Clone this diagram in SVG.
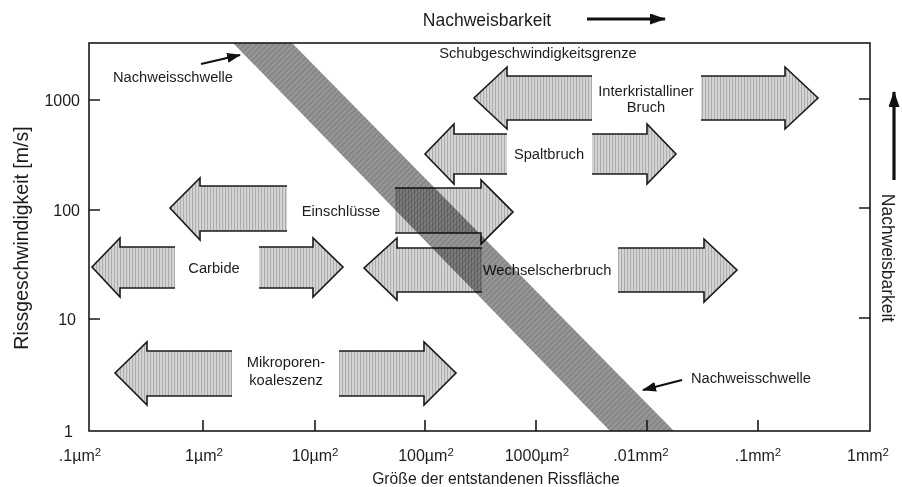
<svg xmlns="http://www.w3.org/2000/svg" width="902" height="487" viewBox="0 0 902 487">
<defs>
<pattern id="hatch" width="3" height="3" patternUnits="userSpaceOnUse"><rect width="3" height="3" fill="#d6d6d6"/><rect width="1.1" height="3" fill="#acacac"/></pattern>
<pattern id="bandp" width="4" height="4" patternUnits="userSpaceOnUse" patternTransform="rotate(45)"><rect width="4" height="4" fill="#979797"/><rect width="1.6" height="4" fill="#828282"/></pattern>
<marker id="ahL" viewBox="0 0 16 11" refX="15" refY="5.5" markerWidth="16" markerHeight="11" orient="auto" markerUnits="userSpaceOnUse"><path d="M0,0 L16,5.5 L0,11 Z" fill="#111"/></marker>
<marker id="ahS" viewBox="0 0 14 10" refX="13" refY="5" markerWidth="14" markerHeight="10" orient="auto" markerUnits="userSpaceOnUse"><path d="M0,0 L14,5 L0,10 Z" fill="#111"/></marker>
</defs>
<style>
.t{font-family:"Liberation Sans",Arial,sans-serif;fill:#1c1c1c}
.lab{font-size:14.7px}
.tk{font-size:16px}
.af{fill:url(#hatch);stroke:none}
.as{fill:none;stroke:#1a1a1a;stroke-width:1.6;stroke-linejoin:miter}
.ax{fill:none;stroke:#1a1a1a;stroke-width:1.6}
.ld{fill:none;stroke:#111;stroke-width:2.2}
.ldb{fill:none;stroke:#111;stroke-width:3.2}
</style>
<rect width="902" height="487" fill="#fff"/>

<!-- arrows (nodes) -->
<g id="interkristallin">
<path class="af" d="M474,98 L507,67 L507,76 L592,76 L592,120 L507,120 L507,129 Z"/>
<path class="as" d="M592,76 L507,76 L507,67 L474,98 L507,129 L507,120 L592,120"/>
<path class="af" d="M818,98 L785,67 L785,76 L701,76 L701,120 L785,120 L785,129 Z"/>
<path class="as" d="M701,76 L785,76 L785,67 L818,98 L785,129 L785,120 L701,120"/>
<text class="t lab" x="646" y="96" text-anchor="middle">Interkristalliner</text>
<text class="t lab" x="646" y="112" text-anchor="middle">Bruch</text>
</g>
<g id="spaltbruch">
<path class="af" d="M425,154 L454,124 L454,134 L507,134 L507,174 L454,174 L454,184 Z"/>
<path class="as" d="M507,134 L454,134 L454,124 L425,154 L454,184 L454,174 L507,174"/>
<path class="af" d="M676,154 L647,124 L647,134 L592,134 L592,174 L647,174 L647,184 Z"/>
<path class="as" d="M592,134 L647,134 L647,124 L676,154 L647,184 L647,174 L592,174"/>
<text class="t lab" x="549" y="159" text-anchor="middle">Spaltbruch</text>
</g>
<g id="einschluesse">
<path class="af" d="M170,208 L200,178 L200,186 L287,186 L287,231 L200,231 L200,240 Z"/>
<path class="as" d="M287,186 L200,186 L200,178 L170,208 L200,240 L200,231 L287,231"/>
<path class="af" d="M513,212 L481,180 L481,188 L395,188 L395,233 L481,233 L481,244 Z"/>
<path class="as" d="M395,188 L481,188 L481,180 L513,212 L481,244 L481,233 L395,233"/>
<text class="t lab" x="341" y="216" text-anchor="middle">Einschlüsse</text>
</g>
<g id="carbide">
<path class="af" d="M92,267 L120,238 L120,247 L175,247 L175,288 L120,288 L120,297 Z"/>
<path class="as" d="M175,247 L120,247 L120,238 L92,267 L120,297 L120,288 L175,288"/>
<path class="af" d="M343,267 L313,238 L313,247 L259,247 L259,288 L313,288 L313,297 Z"/>
<path class="as" d="M259,247 L313,247 L313,238 L343,267 L313,297 L313,288 L259,288"/>
<text class="t lab" x="214" y="273" text-anchor="middle">Carbide</text>
</g>
<g id="wechselscherbruch">
<path class="af" d="M364,268 L397,238 L397,248 L482,248 L482,292 L397,292 L397,300 Z"/>
<path class="as" d="M482,248 L397,248 L397,238 L364,268 L397,300 L397,292 L482,292"/>
<path class="af" d="M737,270 L704,239 L704,248 L618,248 L618,292 L704,292 L704,302 Z"/>
<path class="as" d="M618,248 L704,248 L704,239 L737,270 L704,302 L704,292 L618,292"/>
<text class="t lab" x="547" y="275" text-anchor="middle">Wechselscherbruch</text>
</g>
<g id="mikroporen">
<path class="af" d="M115,373 L147,342 L147,351 L232,351 L232,396 L147,396 L147,405 Z"/>
<path class="as" d="M232,351 L147,351 L147,342 L115,373 L147,405 L147,396 L232,396"/>
<path class="af" d="M456,373 L424,342 L424,351 L339,351 L339,396 L424,396 L424,405 Z"/>
<path class="as" d="M339,351 L424,351 L424,342 L456,373 L424,405 L424,396 L339,396"/>
<text class="t lab" x="286" y="367" text-anchor="middle">Mikroporen-</text>
<text class="t lab" x="286" y="385" text-anchor="middle">koaleszenz</text>
</g>

<!-- detection threshold band -->
<g id="nachweisschwelle-band" style="mix-blend-mode:multiply">
<polygon points="233,43 292,43 674,431 610,431" fill="url(#bandp)"/>
</g>

<!-- frame and axes -->
<g id="axes">
<rect class="ax" x="89" y="43" width="781" height="388"/>
<path class="ax" d="M89,100 H100 M89,210 H100 M89,319 H100 M870,99 H859 M870,208 H859 M870,318 H859 M203,431 V420 M315,431 V420 M425,431 V420 M536,431 V420 M647,431 V420 M758,431 V420"/>
<text class="t tk" x="80" y="106" text-anchor="end">1000</text>
<text class="t tk" x="80" y="216" text-anchor="end">100</text>
<text class="t tk" x="76" y="325" text-anchor="end">10</text>
<text class="t tk" x="73" y="437" text-anchor="end">1</text>
<g class="t tk" text-anchor="middle">
<text x="80" y="461">.1µm<tspan font-size="11.5" dy="-5">2</tspan></text>
<text x="204" y="461">1µm<tspan font-size="11.5" dy="-5">2</tspan></text>
<text x="315" y="461">10µm<tspan font-size="11.5" dy="-5">2</tspan></text>
<text x="426" y="461">100µm<tspan font-size="11.5" dy="-5">2</tspan></text>
<text x="537" y="461">1000µm<tspan font-size="11.5" dy="-5">2</tspan></text>
<text x="641" y="461">.01mm<tspan font-size="11.5" dy="-5">2</tspan></text>
<text x="758" y="461">.1mm<tspan font-size="11.5" dy="-5">2</tspan></text>
<text x="868" y="461">1mm<tspan font-size="11.5" dy="-5">2</tspan></text>
</g>
<text class="t" font-size="15.7" x="496" y="484" text-anchor="middle">Größe der entstandenen Rissfläche</text>
<text class="t" font-size="19.5" transform="translate(28,238) rotate(-90)" text-anchor="middle">Rissgeschwindigkeit [m/s]</text>
<text class="t" font-size="17.5" x="487" y="26" text-anchor="middle">Nachweisbarkeit</text>
<text class="t" font-size="17.5" transform="translate(882,258) rotate(90)" text-anchor="middle">Nachweisbarkeit</text>
</g>

<!-- connectors -->
<g id="connectors">
<path class="ldb" d="M587,19 H665" marker-end="url(#ahL)"/>
<path class="ldb" d="M894,180 V92" marker-end="url(#ahL)"/>
<path class="ld" d="M201,64 L240,55" marker-end="url(#ahS)"/>
<path class="ld" d="M682,380 L643,390" marker-end="url(#ahS)"/>
</g>
<text class="t lab" x="173" y="82" text-anchor="middle">Nachweisschwelle</text>
<text class="t lab" x="751" y="383" text-anchor="middle">Nachweisschwelle</text>
<text class="t lab" x="538" y="58" text-anchor="middle">Schubgeschwindigkeitsgrenze</text>
</svg>
